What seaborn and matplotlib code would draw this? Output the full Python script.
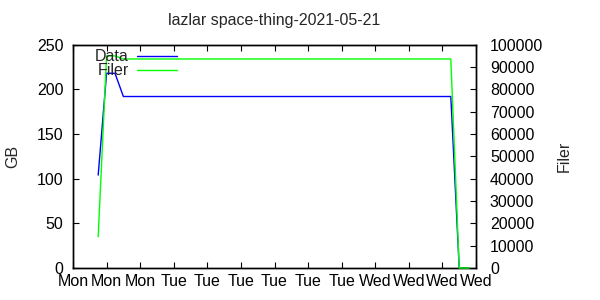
import matplotlib
matplotlib.use("Agg")
import matplotlib.pyplot as plt
import seaborn as sns
import pandas as pd

# hours since left edge of axis (Mon 12:00)
hours = [3.0, 4.0, 5.0, 6.0, 45.0, 46.0, 47.2]
data_gb = [104, 218, 218, 192, 192, 0, 0]
filer = [14000, 95000, 95000, 93600, 93600, 0, 0]

tick_hours = list(range(0, 49, 4))
tick_labels = ["Mon", "Mon", "Mon", "Tue", "Tue", "Tue", "Tue", "Tue", "Tue",
               "Wed", "Wed", "Wed", "Wed"]

df = pd.DataFrame({"hours": hours, "Data": data_gb, "Filer": filer})

FS = 11.5
sns.set_theme(style="white")
plt.rcParams["font.family"] = ["Liberation Sans", "DejaVu Sans"]
plt.rcParams["font.size"] = FS

fig = plt.figure(figsize=(6, 3), dpi=100)
ax = fig.add_axes([73/600, 1-268/300, (476-73)/600, (268-44.7)/300])
ax2 = ax.twinx()

sns.lineplot(data=df, x="hours", y="Data", ax=ax, color="#0000ff", lw=1, label="Data",
             legend=False, zorder=3, clip_on=False)
sns.lineplot(data=df, x="hours", y="Filer", ax=ax2, color="#00ff00", lw=1, label="Filer",
             legend=False, zorder=3, clip_on=False)

ax.set_xlim(0, 48)
ax.set_ylim(0, 250)
ax2.set_ylim(0, 100000)
ax.set_xticks(tick_hours)
ax.set_xticklabels(tick_labels)
ax.set_yticks(range(0, 251, 50))
ax2.set_yticks(range(0, 100001, 10000))

ax.set_xlabel("")
ax.set_ylabel("GB", fontsize=FS, labelpad=12)
ax2.set_ylabel("Filer", fontsize=FS, labelpad=10)
ax.set_title("lazlar space-thing-2021-05-21", fontsize=FS, pad=14)

for a in (ax, ax2):
    for s in a.spines.values():
        s.set_color("black")
        s.set_linewidth(1)
ax.tick_params(axis="x", direction="in", length=4, width=0.8, top=True, bottom=True,
               labelsize=FS, pad=4, colors="black")
ax.tick_params(axis="y", direction="in", length=4, width=0.8, left=True, right=False,
               labelsize=FS, pad=7, colors="black")
ax2.tick_params(axis="y", direction="in", length=4, width=0.8, right=True,
                labelsize=FS, pad=10, colors="black")
ax2.xaxis.set_visible(False)

h1, l1 = ax.get_legend_handles_labels()
h2, l2 = ax2.get_legend_handles_labels()
leg = ax2.legend(h1 + h2, l1 + l2, loc="upper left", bbox_to_anchor=(0.055, 0.98),
                 frameon=False, markerfirst=False, handlelength=2.5, handletextpad=0.5,
                 labelspacing=-0.05, borderpad=0, borderaxespad=0, fontsize=FS)

fig.savefig("out.png", dpi=100, facecolor="white")
